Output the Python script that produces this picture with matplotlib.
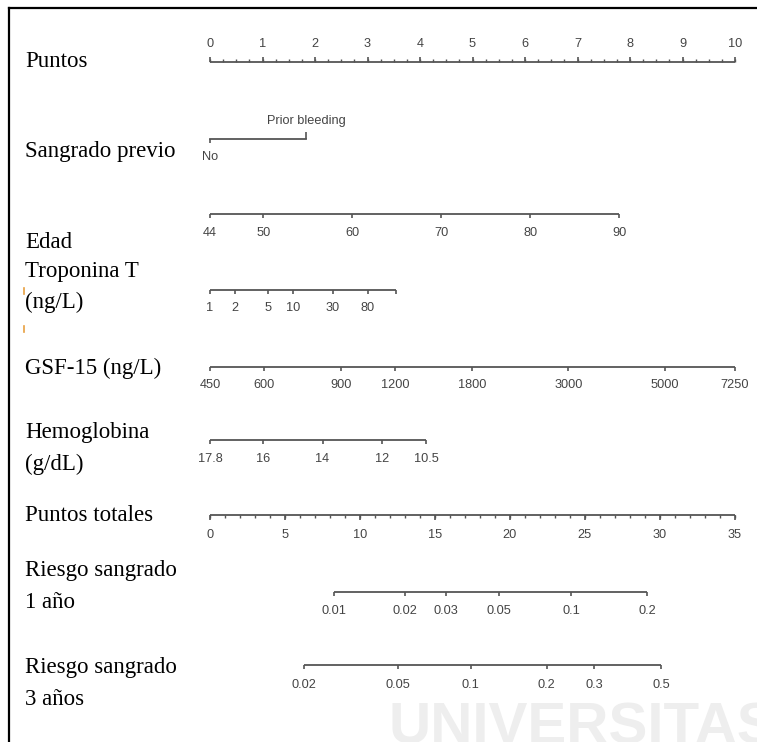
import numpy as np
import matplotlib
matplotlib.use('Agg')
import matplotlib.pyplot as plt
from matplotlib.lines import Line2D

# ---- datos del nomograma ----
puntos_ticks = np.arange(0, 11)
sangrado_niveles = ['No', 'Prior bleeding']
sangrado_puntos = [0.0, 1.83]
edad_ticks = [44, 50, 60, 70, 80, 90]
edad_pts_por_anyo = 0.1695
tropo_ticks = [1, 2, 5, 10, 30, 80]
tropo_max = 174
tropo_pts_por_decada = 1.58
gdf_ticks = [450, 600, 900, 1200, 1800, 3000, 5000, 7250]
hb_ticks = [17.8, 16, 14, 12, 10.5]
hb_pts_por_unidad = 0.564
total_ticks = np.arange(0, 36, 5)
total_max = 35
riesgo1_ticks = [0.01, 0.02, 0.03, 0.05, 0.1, 0.2]
riesgo3_ticks = [0.02, 0.05, 0.1, 0.2, 0.3, 0.5]
# puntos totales = a + b * log(-log(1 - p))
riesgo_b = 6.73
riesgo1_a = 39.23
riesgo3_a = 32.53

W, H = 757, 742
PX0, PX_PT = 210, 52.5
LC = '#555555'
TC = '#444444'
SERIF = 'Liberation Serif'
SANS = 'Liberation Sans'

fig = plt.figure(figsize=(W / 100, H / 100), dpi=100, facecolor='white')
ax = fig.add_axes([0, 0, 1, 1])
ax.set_xlim(-PX0 / PX_PT, (W - PX0) / PX_PT)
ax.set_ylim(H, 0)
ax.axis('off')

# marca de agua
fig.text(388 / W, 1 - 744 / H, 'UNIVERSITAS', fontsize=42, fontweight='bold',
         family=SANS, color='#eeeeee', va='baseline', ha='left', zorder=0)


def escala(y, pts, etiquetas, tick=4, arriba=False, off=18, menores=None, tick_men=2.5,
           extremo=None):
    x0 = min(pts) if extremo is None else min(min(pts), extremo)
    x1 = max(pts) if extremo is None else max(max(pts), extremo)
    ax.plot([x0, x1], [y, y], color=LC, lw=1.3, solid_capstyle='butt', zorder=3)
    d = -tick if arriba else tick
    todos = list(pts) + ([extremo] if extremo is not None else [])
    ax.vlines(todos, y, y + d, color=LC, lw=1.2, zorder=3)
    if menores is not None:
        dm = -tick_men if arriba else tick_men
        ax.vlines(menores, y, y + dm, color=LC, lw=1.0, zorder=3)
    ly = y - off if arriba else y + off
    for p, t in zip(pts, etiquetas):
        ax.text(p, ly, t, ha='center', va='center', fontsize=9.2, family=SANS,
                color=TC, zorder=3)


def etiqueta(ypx, txt):
    fig.text(25 / W, 1 - ypx / H, txt, fontsize=16.5, family=SERIF, color='black',
             va='baseline', ha='left')


def fmt(v):
    return ('%g' % v)


# Puntos
escala(61.7, puntos_ticks, [str(v) for v in puntos_ticks], tick=5, arriba=True, off=17.7,
       menores=np.arange(0, 10.01, 0.25), tick_men=3)
etiqueta(67, 'Puntos')

# Sangrado previo
yl = 139.3
ax.plot(sangrado_puntos, [yl, yl], color=LC, lw=1.3, zorder=3)
ax.vlines(sangrado_puntos[0], yl, yl + 4, color=LC, lw=1.2)
ax.vlines(sangrado_puntos[1], yl, yl - 7, color=LC, lw=1.2)
ax.text(sangrado_puntos[0], yl + 18, sangrado_niveles[0], ha='center', va='center',
        fontsize=9.2, family=SANS, color=TC)
ax.text(sangrado_puntos[1], yl - 18.6, sangrado_niveles[1], ha='center', va='center',
        fontsize=9.2, family=SANS, color=TC)
etiqueta(157.5, 'Sangrado previo')

# Edad
edad_pts = [(v - edad_ticks[0]) * edad_pts_por_anyo for v in edad_ticks]
escala(214.3, edad_pts, [fmt(v) for v in edad_ticks], off=18.5)
etiqueta(248, 'Edad')

# Troponina T
tropo_pts = [np.log10(v) * tropo_pts_por_decada for v in tropo_ticks]
escala(290, tropo_pts, [fmt(v) for v in tropo_ticks], off=18.3,
       extremo=np.log10(tropo_max) * tropo_pts_por_decada)
etiqueta(277, 'Troponina T')
etiqueta(308, '(ng/L)')
# pequeñas marcas naranjas junto al texto
ax.plot([(24 - PX0) / PX_PT] * 2, [288, 294], color='#e8a040', lw=1.2)
ax.plot([(24 - PX0) / PX_PT] * 2, [326, 332], color='#e8a040', lw=1.2)

# GDF-15
lg = np.log10(gdf_ticks)
gdf_pts = (lg - lg[0]) / (lg[-1] - lg[0]) * 10
escala(367, gdf_pts, [fmt(v) for v in gdf_ticks], off=18.5)
etiqueta(374, 'GSF-15 (ng/L)')

# Hemoglobina
hb_pts = [(hb_ticks[0] - v) * hb_pts_por_unidad for v in hb_ticks]
escala(440, hb_pts, [fmt(v) for v in hb_ticks], off=18.5)
etiqueta(438, 'Hemoglobina')
etiqueta(470, '(g/dL)')

# Puntos totales
k = 10 / total_max
escala(515, total_ticks * k, [str(v) for v in total_ticks], tick=5, off=20,
       menores=np.arange(0, total_max + 1) * k, tick_men=3)
etiqueta(521, 'Puntos totales')


def riesgo_pts(ps, a):
    return [(a + riesgo_b * np.log(-np.log(1 - p))) * k for p in ps]


# Riesgo 1 año
escala(592, riesgo_pts(riesgo1_ticks, riesgo1_a), [fmt(v) for v in riesgo1_ticks], off=19)
etiqueta(576, 'Riesgo sangrado')
etiqueta(608, '1 año')

# Riesgo 3 años
escala(665, riesgo_pts(riesgo3_ticks, riesgo3_a), [fmt(v) for v in riesgo3_ticks], off=20.5)
etiqueta(673, 'Riesgo sangrado')
etiqueta(705, '3 años')

# marco
fig.add_artist(Line2D([9 / W, 9 / W], [0, 1 - 8 / H], color='black', lw=1.6))
fig.add_artist(Line2D([9 / W, 1], [1 - 8 / H, 1 - 8 / H], color='black', lw=1.6))

fig.savefig('out.png', dpi=100, facecolor='white')
